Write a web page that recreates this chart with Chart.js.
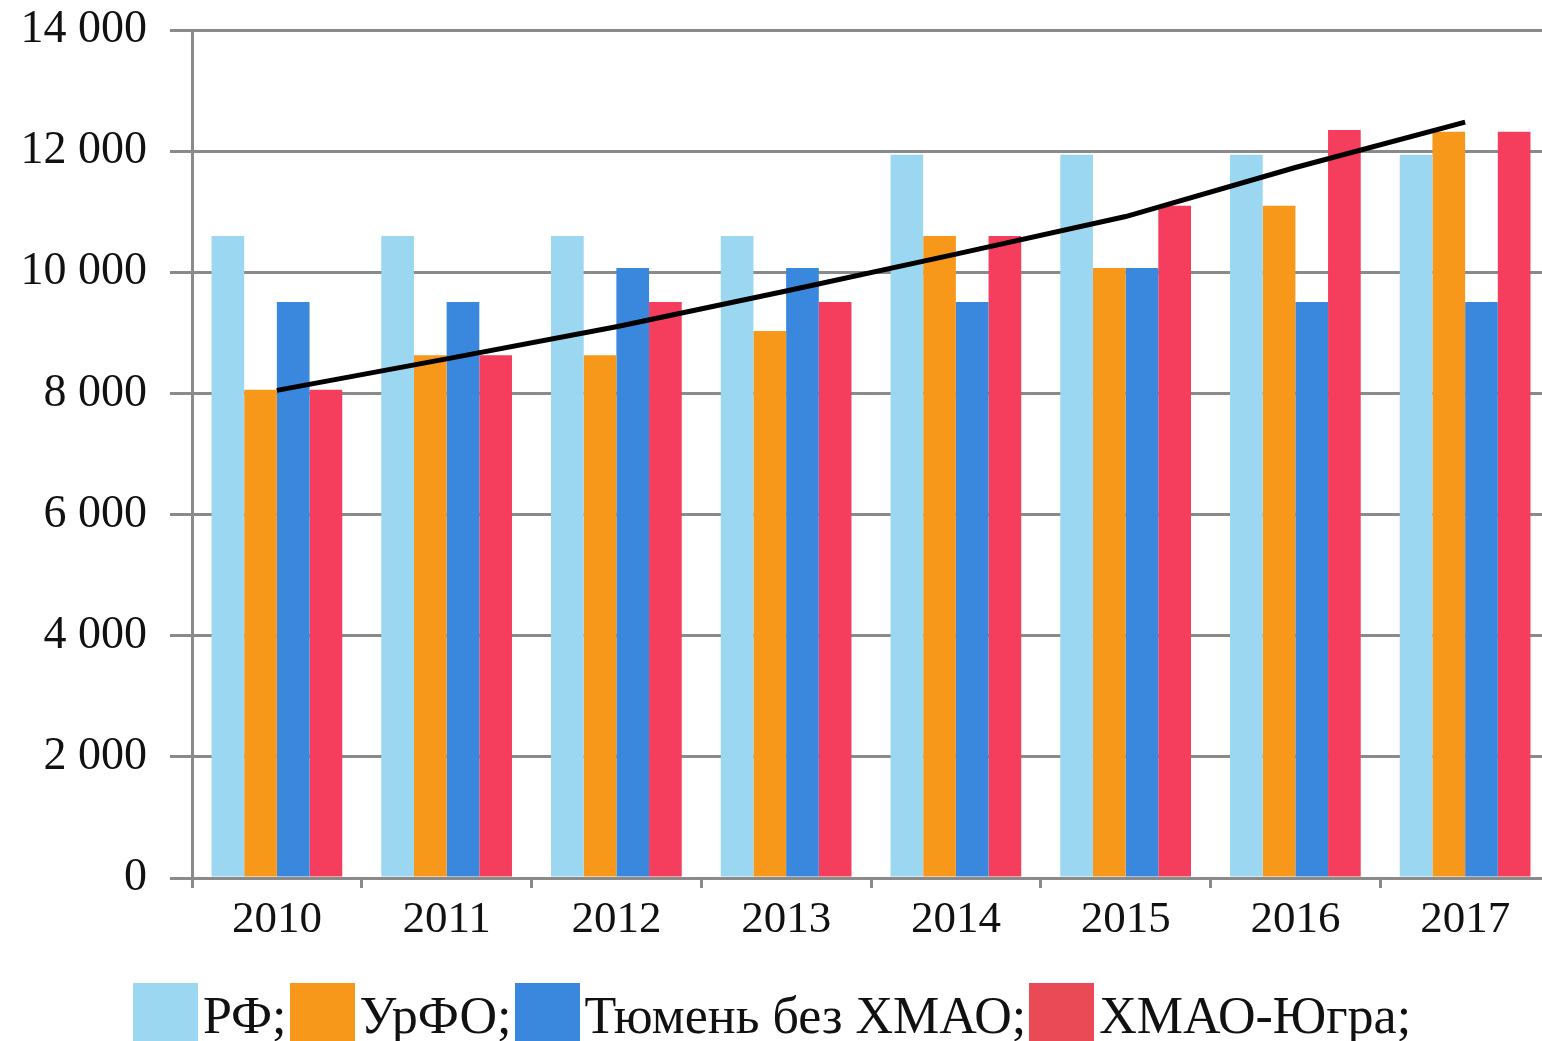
<!DOCTYPE html>
<html>
<head>
<meta charset="utf-8">
<script src="https://cdn.jsdelivr.net/npm/chart.js@4.4.1/dist/chart.umd.min.js"></script>
<style>
  html, body { margin: 0; padding: 0; background: #fff; overflow: hidden; }
  #wrap { position: absolute; left: 0; top: 0; width: 1550px; height: 965px; }
  #legend {
    position: absolute; left: 133px; top: 979px;
    display: flex; align-items: center;
    font-family: "Liberation Serif", "DejaVu Serif", serif; font-size: 52px; color: #111;
  }
  #legend .item { display: flex; align-items: center; margin-right: 3px; }
  #legend .box { width: 65px; height: 58px; margin-right: 5px; }
  #legend .txt { line-height: 58px; padding-top: 8px; }
</style>
</head>
<body>
<div id="wrap"><canvas id="myChart"></canvas></div>
<div id="legend"></div>
<script>
  const years = ["2010", "2011", "2012", "2013", "2014", "2015", "2016", "2017"];
  const seriesNames = ["РФ;", "УрФО;", "Тюмень без ХМАО;", "ХМАО-Югра;"];
  const rf = [10600, 10600, 10600, 10600, 11940, 11940, 11940, 11940];
  const urfo = [8060, 8630, 8630, 9030, 10600, 10070, 11100, 12320];
  const tyumen = [9510, 9510, 10070, 10070, 9510, 10070, 9510, 9510];
  const hmao = [8060, 8630, 9510, 9510, 10600, 11100, 12350, 12320];
  const trend = [8050, 8570, 9100, 9690, 10300, 10920, 11730, 12480];
  const yTicks = [0, 2000, 4000, 6000, 8000, 10000, 12000, 14000];

  const colors = ["#9bd7f0", "#f7981a", "#3a88de", "#f53d5e"];
  const legendColors = ["#9bd7f0", "#f7981a", "#3a88de", "#ea4a55"];
  const gridColor = "#8a8a8a";
  const serif = "'Liberation Serif', 'DejaVu Serif', serif";

  const barSets = [rf, urfo, tyumen, hmao].map((vals, i) => ({
    type: "bar",
    label: seriesNames[i],
    data: vals,
    backgroundColor: colors[i],
    borderWidth: 0,
    barPercentage: 1,
    categoryPercentage: 0.77,
    order: 2,
  }));

  const data = {
    labels: years,
    datasets: [
      {
        type: "line",
        label: "trend",
        data: trend,
        borderColor: "#000",
        borderWidth: 5,
        pointRadius: 0,
        tension: 0,
        order: 1,
      },
      ...barSets,
    ],
  };

  const config = {
    type: "bar",
    data: data,
    options: {
      responsive: true,
      maintainAspectRatio: false,
      animation: false,
      layout: { padding: { top: 30, right: 0, left: 0, bottom: 0 } },
      plugins: { legend: { display: false }, tooltip: { enabled: false } },
      scales: {
        x: {
          offset: true,
          grid: {
            offset: true,
            drawOnChartArea: false,
            drawTicks: true,
            tickLength: 10,
            color: gridColor,
            lineWidth: 3,
          },
          border: { color: gridColor, width: 3 },
          ticks: { font: { family: serif, size: 45 }, color: "#111", padding: 5, maxRotation: 0 },
          afterFit: (scale) => { scale.height = 87; },
        },
        y: {
          min: 0,
          max: 14000,
          afterBuildTicks: (scale) => { scale.ticks = yTicks.map((v) => ({ value: v })); },
          grid: { color: gridColor, lineWidth: 3, tickLength: 22 },
          border: { color: gridColor, width: 3 },
          ticks: {
            font: { family: serif, size: 46, lineHeight: 0.2 },
            color: "#111",
            padding: 23,
            callback: (v) => (v >= 1000 ? Math.floor(v / 1000) + " " + String(v % 1000).padStart(3, "0") : String(v)),
          },
          afterFit: (scale) => { scale.width = 192; },
        },
      },
    },
  };

  const myChart = new Chart(document.getElementById("myChart"), config);

  const legend = document.getElementById("legend");
  seriesNames.forEach((name, i) => {
    const item = document.createElement("div");
    item.className = "item";
    item.innerHTML = '<div class="box" style="background:' + legendColors[i] + '"></div><div class="txt">' + name + "</div>";
    legend.appendChild(item);
  });
</script>
</body>
</html>
